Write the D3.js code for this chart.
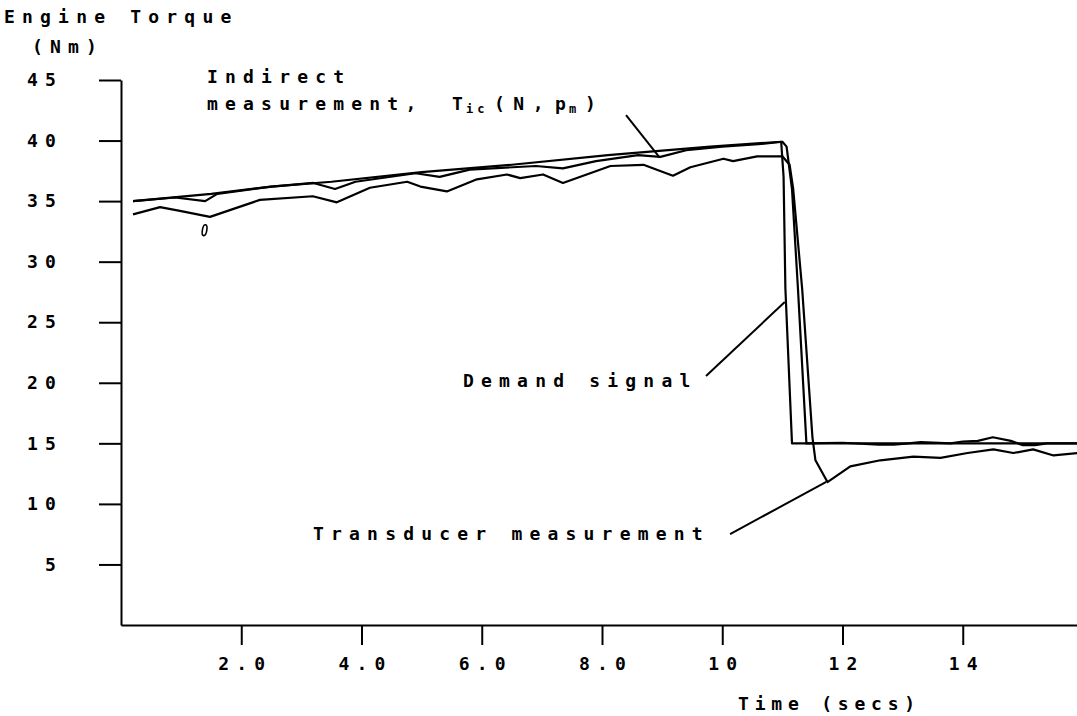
<!DOCTYPE html>
<html><head><meta charset="utf-8">
<script src="https://cdn.jsdelivr.net/npm/d3@7"></script>
<style>
html,body{margin:0;padding:0;background:#fff;}
svg{display:block;background:#fff;}
text{font-family:"DejaVu Sans Mono",monospace;font-weight:bold;fill:#000;}
</style>
</head><body>
<svg id="c" width="1077" height="716"></svg>
<script>
// ---- data ----
const demandT = [0.2, 1.5, 2.5, 3.5, 5.0, 6.5, 8.1, 9.8, 10.98, 11.02, 11.05, 11.16, 16];
const demandV = [35.0, 35.6, 36.2, 36.6, 37.4, 38.0, 38.8, 39.5, 39.9, 37.0, 27.8, 15.0, 15.0];

const indirectT = [0.2, 0.9, 1.4, 1.6, 2.5, 3.2, 3.56, 3.9, 4.9, 5.3, 5.8, 6.9, 7.35, 7.9, 8.6, 8.97, 9.4, 10.0, 10.6, 11.0, 11.07, 11.16, 11.26, 11.40, 12.0, 12.6, 12.85, 13.1, 13.3, 13.8, 14.0, 14.25, 14.5, 14.8, 15.0, 15.2, 15.4, 16];
const indirectV = [35.0, 35.3, 35.0, 35.6, 36.2, 36.5, 36.0, 36.6, 37.3, 37.0, 37.6, 37.9, 37.7, 38.3, 38.8, 38.65, 39.2, 39.5, 39.7, 39.9, 39.5, 36.0, 27.7, 15.0, 15.05, 14.9, 14.9, 15.0, 15.1, 15.0, 15.15, 15.2, 15.5, 15.2, 14.85, 14.85, 15.0, 15.0];

const transducerT = [0.2, 0.65, 0.98, 1.48, 2.31, 3.19, 3.59, 4.14, 4.76, 4.98, 5.42, 5.92, 6.42, 6.64, 7.02, 7.35, 8.14, 8.69, 9.18, 9.47, 10.02, 10.18, 10.58, 11.0, 11.12, 11.18, 11.33, 11.50, 11.55, 11.75, 12.13, 12.63, 13.18, 13.63, 14.08, 14.51, 14.84, 15.17, 15.51, 15.91, 16];
const transducerV = [33.9, 34.5, 34.2, 33.7, 35.1, 35.4, 34.9, 36.1, 36.6, 36.2, 35.8, 36.8, 37.2, 36.9, 37.2, 36.5, 37.9, 38.0, 37.1, 37.8, 38.5, 38.3, 38.7, 38.7, 38.0, 36.0, 27.7, 15.5, 13.6, 11.8, 13.1, 13.6, 13.9, 13.8, 14.2, 14.5, 14.2, 14.5, 14.0, 14.2, 14.1];

const yTicks = [5, 10, 15, 20, 25, 30, 35, 40, 45];
const yTickLabels = ["5", "10", "15", "20", "25", "30", "35", "40", "45"];
const xTicks = [2, 4, 6, 8, 10, 12, 14];
const xTickLabels = ["2.0", "4.0", "6.0", "8.0", "10", "12", "14"];

// annotation leader lines in data units [t1, v1, t2, v2]
const indirectLeader = [8.4, 42.1, 8.96, 38.6];
const demandLeader = [9.73, 20.56, 11.04, 26.67];
const transducerLeader = [10.13, 7.51, 11.73, 11.81];

// ---- drawing ----
const FS = 18, LS = 7.2;
const svg = d3.select("#c");
svg.append("rect").attr("width", 1077).attr("height", 716).attr("fill", "#fff");

const x = d3.scaleLinear().domain([0, 16]).range([121, 1083]);
const y = d3.scaleLinear().domain([0, 45]).range([625, 80]);

const yAxis = svg.append("g").attr("transform", "translate(121,0)")
  .call(d3.axisLeft(y).tickValues(yTicks).tickFormat((d, i) => yTickLabels[i])
    .tickSize(22).tickPadding(36).tickSizeOuter(0));
const xAxis = svg.append("g").attr("transform", "translate(0,625)")
  .call(d3.axisBottom(x).tickValues(xTicks).tickFormat((d, i) => xTickLabels[i])
    .tickSize(20).tickPadding(12).tickSizeOuter(0));
[yAxis, xAxis].forEach(g => {
  g.selectAll("path,line").attr("stroke", "#000").attr("stroke-width", 2);
  g.selectAll("text").attr("font-size", FS).attr("letter-spacing", LS)
    .attr("font-family", '"DejaVu Sans Mono", monospace').attr("font-weight", "bold").attr("fill", "#000");
});
xAxis.selectAll("text").attr("dx", LS / 2);

const line = d3.line().x(d => x(d[0])).y(d => y(d[1]));
function series(T, V) { return T.map((t, i) => [t, V[i]]); }
[[demandT, demandV], [indirectT, indirectV], [transducerT, transducerV]].forEach(([T, V]) => {
  svg.append("path").datum(series(T, V)).attr("d", line)
    .attr("fill", "none").attr("stroke", "#000").attr("stroke-width", 2.2).attr("stroke-linejoin", "round");
});

[indirectLeader, demandLeader, transducerLeader].forEach(L => {
  svg.append("line").attr("x1", x(L[0])).attr("y1", y(L[1])).attr("x2", x(L[2])).attr("y2", y(L[3]))
    .attr("stroke", "#000").attr("stroke-width", 2);
});

function txt(s, px, py, ls) {
  return svg.append("text").attr("x", px).attr("y", py).attr("font-size", FS)
    .attr("letter-spacing", ls === undefined ? LS : ls).text(s);
}
txt("Engine Torque", 4, 23);
txt("(Nm)", 32, 53);
txt("Indirect", 207, 83);
const m = txt("measurement,", 207, 110);
m.append("tspan").attr("x", 452).attr("letter-spacing", 0).text("T");
m.append("tspan").attr("x", 466).attr("font-size", 12).attr("dy", 3).attr("letter-spacing", 4).text("ic");
m.append("tspan").attr("x", 494).attr("dy", -3).attr("letter-spacing", 8.5).text("(N,");
m.append("tspan").attr("x", 555).attr("letter-spacing", 0).text("p");
m.append("tspan").attr("x", 569).attr("font-size", 12).attr("dy", 3).attr("letter-spacing", 0).text("m");
m.append("tspan").attr("x", 585).attr("dy", -3).text(")");
txt("Demand signal", 463, 387);
txt("Transducer measurement", 313, 540);
txt("Time (secs)", 738, 710, 5.8);

// small stray mark under the transducer trace
svg.append("ellipse").attr("cx", x(1.39)).attr("cy", y(32.6)).attr("rx", 2.2).attr("ry", 5.5)
  .attr("transform", `rotate(10,${x(1.39)},${y(32.6)})`)
  .attr("fill", "none").attr("stroke", "#000").attr("stroke-width", 1.6);
</script>
</body></html>
